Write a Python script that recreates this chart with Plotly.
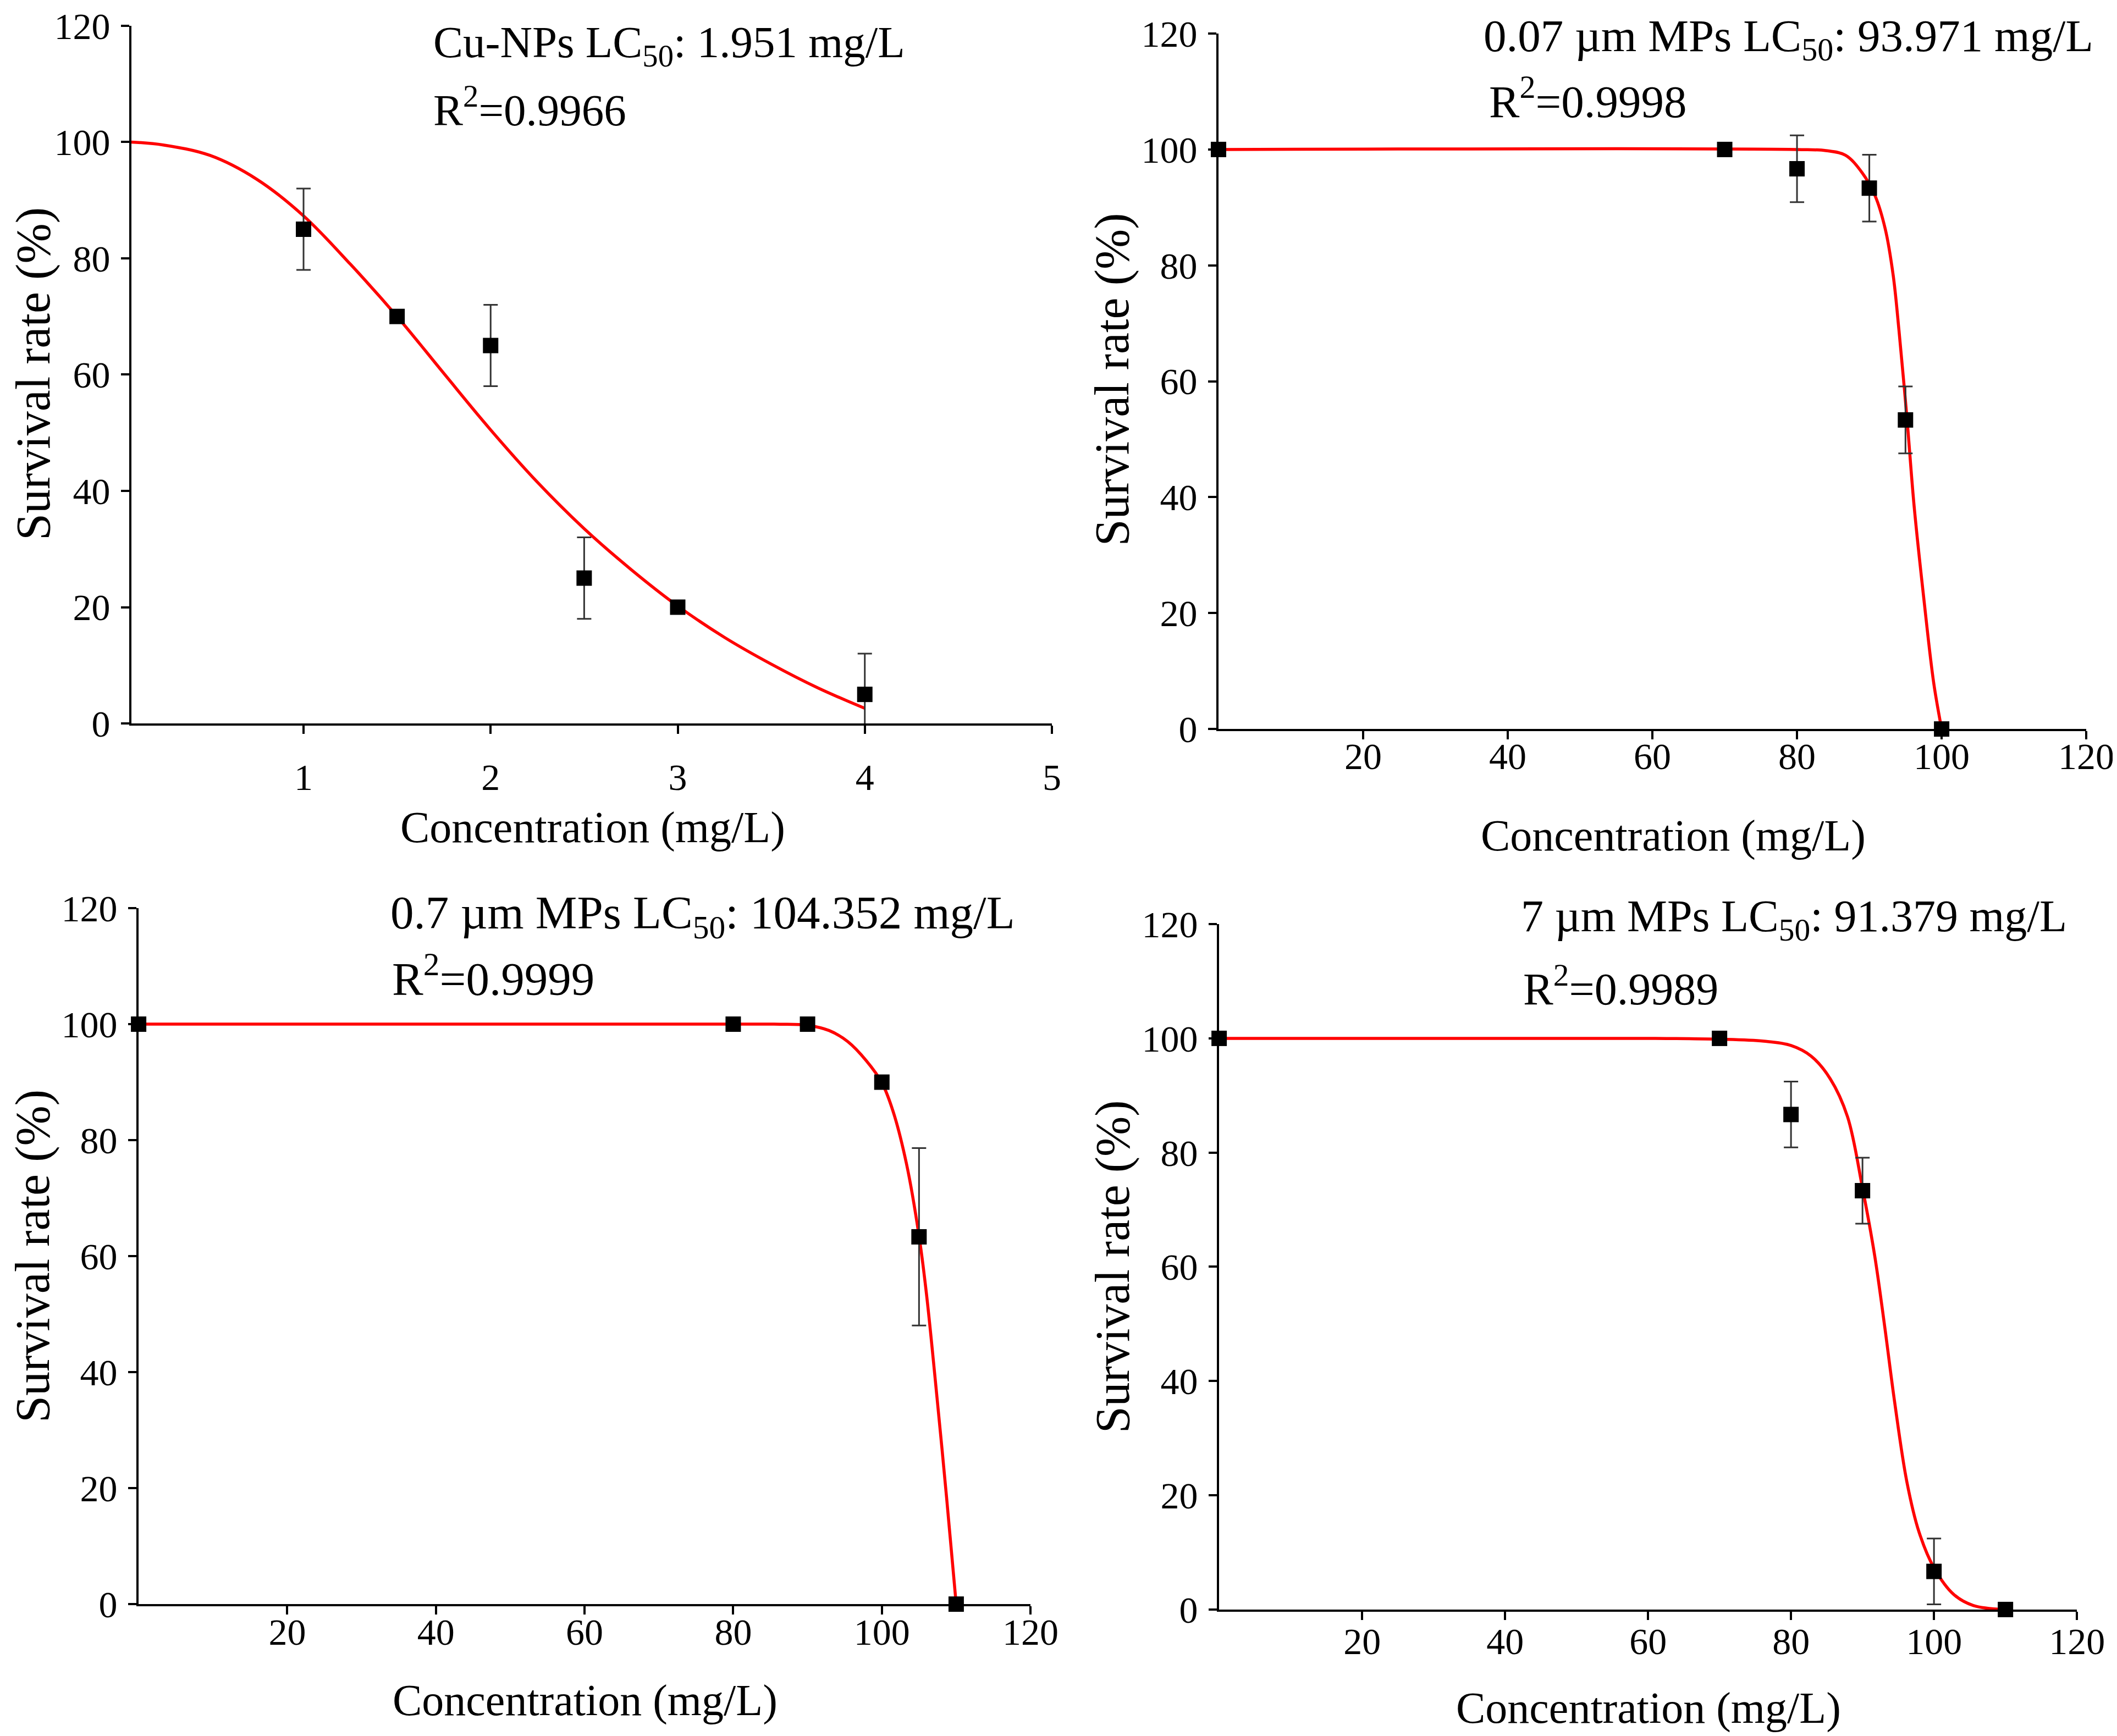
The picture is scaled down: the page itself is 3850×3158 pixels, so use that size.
import plotly.graph_objects as go

# ---- data ----
# Cu-NPs
cu_x = [1, 1.5, 2, 2.5, 3, 4]
cu_y = [85, 70, 65, 25, 20, 5]
cu_err = [7, 0, 7, 7, 0, 7]
cu_fit_x = [0.08, 0.25, 0.5, 0.75, 1.0, 1.25, 1.5, 1.75, 2.0, 2.25, 2.5, 2.75, 3.0, 3.25, 3.5, 3.75, 4.0]
cu_fit_y = [100, 99.5, 97.7, 93.6, 87.3, 79.0, 70.0, 60.2, 50.5, 41.5, 33.5, 26.5, 20.2, 14.8, 10.2, 6.1, 2.6]

# 0.07 um MPs
mp007_x = [0, 70, 80, 90, 95, 100]
mp007_y = [100, 100, 96.67, 93.33, 53.33, 0]
mp007_err = [0, 0, 5.77, 5.77, 5.77, 0]
mp007_fit_x = [0, 80, 84, 86.7, 89, 90.8, 92.2, 93.3, 94.1, 95.2, 96.2, 97.6, 98.9, 100]
mp007_fit_y = [100, 100, 99.8, 99.0, 96.0, 92.0, 86.3, 78.3, 68.8, 53.7, 38.4, 21.8, 8.0, 0]

# 0.7 um MPs
mp07_x = [0, 80, 90, 100, 105, 110]
mp07_y = [100, 100, 100, 90, 63.33, 0]
mp07_err = [0, 0, 0, 0, 15.3, 0]
mp07_fit_x = [0, 85.5, 90, 92.9, 95.4, 97.9, 100, 101.5, 103.3, 105, 106, 107.2, 108.7, 110]
mp07_fit_y = [100, 100, 99.8, 98.9, 97.0, 93.7, 89.9, 85.0, 76.0, 63.5, 53.5, 38.5, 18.5, 0]

# 7 um MPs
mp7_x = [0, 70, 80, 90, 100, 110]
mp7_y = [100, 100, 86.67, 73.33, 6.67, 0]
mp7_err = [0, 0, 5.77, 5.77, 5.77, 0]
mp7_fit_x = [0, 60, 69.9, 76.2, 80, 82.8, 85.5, 87.9, 90.0, 91.7, 93.1, 94.5, 96.2, 97.9, 100, 102.8, 105.5, 109.7]
mp7_fit_y = [100, 100, 99.85, 99.5, 98.75, 96.9, 92.9, 86.3, 73.8, 62.0, 49.6, 36.3, 22.4, 13.6, 7.3, 2.6, 0.7, 0]

labels = [
    ("Cu-NPs LC<sub>50</sub>: 1.951 mg/L", "R<sup>2</sup>=0.9966"),
    ("0.07 µm MPs LC<sub>50</sub>: 93.971 mg/L", "R<sup>2</sup>=0.9998"),
    ("0.7 µm MPs LC<sub>50</sub>: 104.352 mg/L", "R<sup>2</sup>=0.9999"),
    ("7 µm MPs LC<sub>50</sub>: 91.379 mg/L", "R<sup>2</sup>=0.9989"),
]

y_ticks = [0, 20, 40, 60, 80, 100, 120]
cu_x_ticks = [1, 2, 3, 4, 5]
mp_x_ticks = [20, 40, 60, 80, 100, 120]

FONT = "Liberation Serif, Times New Roman, serif"
W, H = 3850, 3158

panels = [
    dict(x=cu_x, y=cu_y, err=cu_err, fx=cu_fit_x, fy=cu_fit_y, xrange=[0.08, 5], xticks=cu_x_ticks,
         xdom=[0.0600, 0.4948], ydom=[0.5858, 0.9877], standoff=20, tsize=81,
         t1=(0.2022, 0.9764), t2=(0.2022, 0.9410), ytitle=(0.0135, 0.7872), xtitle=(0.2779, 0.5257)),
    dict(x=mp007_x, y=mp007_y, err=mp007_err, fx=mp007_fit_x, fy=mp007_fit_y, xrange=[0, 120], xticks=mp_x_ticks,
         xdom=[0.5735, 0.9834], ydom=[0.5826, 0.9832], standoff=-28, tsize=83,
         t1=(0.6983, 0.9800), t2=(0.7009, 0.9460), ytitle=(0.5232, 0.7840), xtitle=(0.7883, 0.5212)),
    dict(x=mp07_x, y=mp07_y, err=mp07_err, fx=mp07_fit_x, fy=mp07_fit_y, xrange=[0, 120], xticks=mp_x_ticks,
         xdom=[0.0634, 0.4847], ydom=[0.0785, 0.4794], standoff=-27, tsize=85,
         t1=(0.1817, 0.4747), t2=(0.1825, 0.4405), ytitle=(0.0135, 0.2790), xtitle=(0.2742, 0.0231)),
    dict(x=mp7_x, y=mp7_y, err=mp7_err, fx=mp7_fit_x, fy=mp7_fit_y, xrange=[0, 120], xticks=mp_x_ticks,
         xdom=[0.5738, 0.9790], ydom=[0.0754, 0.4702], standoff=-19, tsize=82,
         t1=(0.7159, 0.4731), t2=(0.7170, 0.4345), ytitle=(0.5235, 0.2730), xtitle=(0.7767, 0.0184)),
]

fig = go.Figure()

axis_style = dict(
    showline=True, linecolor="black", linewidth=4,
    ticks="outside", ticklen=15, tickwidth=4, tickcolor="black",
    tickfont=dict(family=FONT, size=68, color="black"),
    showgrid=False, zeroline=False, automargin=False,
)

for i, p in enumerate(panels, start=1):
    xa = "x" if i == 1 else f"x{i}"
    ya = "y" if i == 1 else f"y{i}"

    fig.add_trace(go.Scatter(
        x=p["fx"], y=p["fy"], mode="lines",
        line=dict(color="#ff0000", width=5.5, shape="spline"),
        xaxis=xa, yaxis=ya, hoverinfo="skip",
    ))
    fig.add_trace(go.Scatter(
        x=p["x"], y=p["y"], mode="markers",
        marker=dict(symbol="square", size=28, color="black"),
        error_y=dict(type="data", array=p["err"], color="#333333", thickness=3, width=13),
        cliponaxis=False, xaxis=xa, yaxis=ya,
    ))

    fig.update_layout({
        f"xaxis{'' if i == 1 else i}": dict(
            axis_style, domain=p["xdom"], range=p["xrange"], tickvals=p["xticks"],
            anchor=ya, ticklabelstandoff=p["standoff"],
        ),
        f"yaxis{'' if i == 1 else i}": dict(
            axis_style, domain=p["ydom"], range=[0, 120], tickvals=y_ticks,
            anchor=xa, ticklabelstandoff=6,
        ),
    })

    line1, line2 = labels[i - 1]
    fig.add_annotation(text=line1, x=p["t1"][0], y=p["t1"][1], xref="paper", yref="paper",
                       xanchor="left", yanchor="middle", showarrow=False,
                       font=dict(family=FONT, size=p["tsize"], color="black"))
    fig.add_annotation(text=line2, x=p["t2"][0], y=p["t2"][1], xref="paper", yref="paper",
                       xanchor="left", yanchor="middle", showarrow=False,
                       font=dict(family=FONT, size=p["tsize"], color="black"))
    fig.add_annotation(text="Survival rate (%)", x=p["ytitle"][0], y=p["ytitle"][1],
                       xref="paper", yref="paper", xanchor="center", yanchor="middle",
                       textangle=-90, showarrow=False,
                       font=dict(family=FONT, size=88, color="black"))
    fig.add_annotation(text="Concentration (mg/L)", x=p["xtitle"][0], y=p["xtitle"][1],
                       xref="paper", yref="paper", xanchor="center", yanchor="middle",
                       showarrow=False, font=dict(family=FONT, size=80, color="black"))

fig.update_layout(
    width=W, height=H,
    margin=dict(l=0, r=0, t=0, b=0),
    paper_bgcolor="white", plot_bgcolor="white",
    showlegend=False, template="none",
)

fig.write_html("out.html")
